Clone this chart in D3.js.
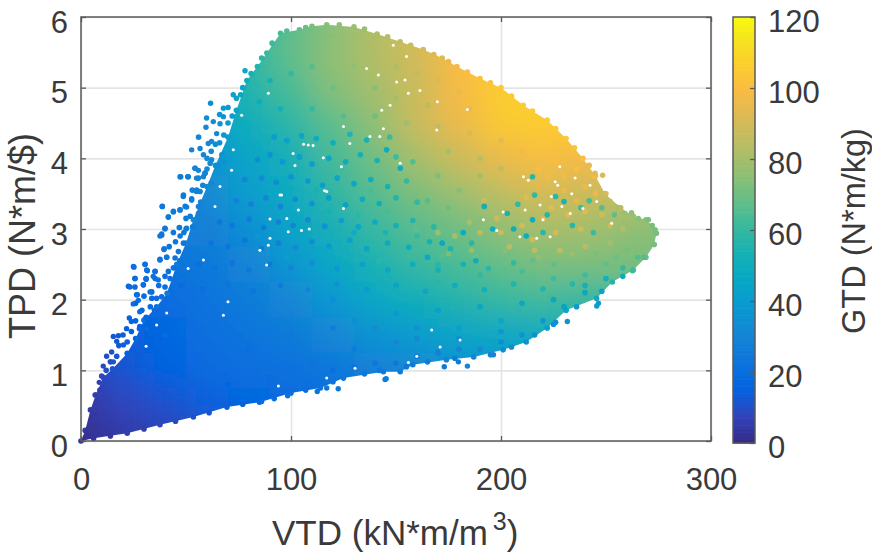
<!DOCTYPE html>
<html><head><meta charset="utf-8">
<script src="https://cdn.jsdelivr.net/npm/d3@7"></script>
<style>html,body{margin:0;background:#fff}svg{display:block}text{font-family:"Liberation Sans",Arial,sans-serif;fill:#3a3a3a}</style>
</head><body><div id="chart"></div>
<script>
// tick labels
const xTicks=[0,100,200,300], yTicks=[0,1,2,3,4,5,6], cTicks=[0,20,40,60,80,100,120];
// GTD (fieldVTD, fieldTPD)
const fieldVTD=[-20,0,20,40,60,80,100,120,140,160,180,200,220,240,260,280];
const fieldTPD=[6,5.5,5,4.5,4,3.5,3,2.5,2,1.5,1,0.5,0,-0.5];
const fieldGTD=[
[40,40,45,50,55,60,66,74,82,90,98,104,106,106,100,90],
[38,38,42,48,52,58,68,76,83,90,100,106,108,106,100,90],
[35,35,40,45,50,56,64,74,80,88,99,106,108,106,100,90],
[32,32,36,40,44,50,58,67,76,88,96,105,106,104,98,88],
[28,28,32,34,36,44,52,63,70,80,88,96,100,98,94,85],
[25,25,28,28,32,41,48,58,66,72,78,85,90,88,86,80],
[22,22,25,26,28,34,44,52,60,66,70,76,80,80,76,74],
[18,18,20,22,25,30,37,46,54,60,64,68,72,72,72,72],
[14,14,16,18,22,26,31,38,46,51,56,60,62,60,60,60],
[10,10,14,17,20,23,26,31,36,40,44,46,48,48,48,48],
[6,6,12,15,18,20,21,24,28,31,35,38,40,40,40,40],
[3,3,8,11,14,17,18,20,22,26,28,30,32,32,32,32],
[1,1,4,6,9,12,14,16,18,20,22,24,26,28,28,28],
[1,1,4,6,9,12,14,16,18,20,22,24,26,28,28,28]];
// outline of the dense cloud, with its colour
const edgeVTD=[0,2,4.5,7,10.6,15,22,26,30,36,41,45.6,50,53.5,60,64,70,74,79,84,88.5,95,104,110,117,130,141,152,163,172,179,190,200,210.6,222,231,239,245,249.5,257,263,269,272,274,273,269,263,253,245.5,231,222,212,201,187,174,158,152,144,125,114,100,85,69.5,53.5,37.6,22,6];
const edgeTPD=[0,0.15,0.44,0.65,0.9,1.02,1.24,1.45,1.71,1.9,2.09,2.5,2.8,3.13,3.6,3.9,4.3,4.68,5.1,5.3,5.49,5.77,5.82,5.87,5.89,5.86,5.76,5.65,5.54,5.42,5.3,5.13,5.0,4.75,4.54,4.28,4.0,3.75,3.5,3.3,3.18,3.13,3.05,2.94,2.78,2.6,2.42,2.25,2.02,1.85,1.6,1.4,1.29,1.19,1.15,1.08,0.98,0.98,0.89,0.75,0.68,0.55,0.48,0.34,0.23,0.11,0.04];
const edgeGTD=[2,3,5,7,9,12,15,17,20,23,25,27,29,31,34,37,40,44,50,56,60,64,68,72,75,78,82,86,90,94,98,102,105,106,106,104,100,96,90,84,78,74,72,72,71,68,62,56,48,44,40,36,33,30,28,26,26,25,24,22,20,17,14,11,8,6,3];
// stray dots outside the dense cloud
const strayVTD=[78.1,72.5,61.7,67.8,59.8,63,59.5,66.2,67.8,64.6,62.2,60.6,52.7,56.7,58.3,62.2,67,54.3,55.9,59,47.5,50.8,55,58.3,48.7,52.7,55,38.7,41.6,44,47.1,50.3,55.9,55.9,40,37.6,46.8,50,53.2,25.2,30.5,31.6,35.2,37.6,39.5,40.8,38.4,25.7,31,34.4,36.8,23.3,29.7,26.8,32.9,24.9,27.3,23,24,28,21.7,27.8,31.3,15.4,17.8,17,20.2,14.6,12.2,10.6,15.4,9.8,8.7,6.7,144.8,122.5,112.5,117,98.4,86,145.3,173,179.7,184,196.4,231.6,245.6,246.4,225,262.6,241.6,248.4,244.8,250,252,255.4,262.2,259,265.4,270.2,273.4];
const strayTPD=[5.24,4.9,4.78,4.71,4.57,4.52,4.44,4.49,4.59,4.35,4.24,4.21,4.12,4.14,4.05,3.98,4.05,3.86,3.83,3.79,3.74,3.74,3.72,3.74,3.46,3.43,3.53,3.32,3.17,3.24,3.27,3.31,3.32,3.22,3.0,2.9,3.02,3.0,3.03,2.46,2.5,2.41,2.4,2.56,2.71,2.6,2.93,2.3,2.3,2.33,2.28,2.18,2.21,2.07,2.11,1.94,1.99,1.74,1.69,1.83,1.59,1.59,1.59,1.48,1.49,1.41,1.36,1.26,1.2,1.06,1.12,0.92,0.83,0.65,0.87,0.74,0.7,0.75,0.64,0.56,0.88,1.05,1.12,1.06,1.22,1.69,1.91,1.95,1.65,2.41,3.9,3.76,3.79,3.5,3.39,3.31,3.23,3.22,3.15,3.13,2.99];
const strayGTD=[46,42,34,38,32,34,31,36,37,33,32,31,28,30,30,33,36,29,30,31,26,27,29,30,26,27,28,24,25,25,26,27,28,28,24,23,25,26,27,20,21,21,22,23,24,24,24,19,20,21,22,18,19,19,20,18,18,16,16,18,15,17,18,12,13,13,14,11,10,9,11,8,7,6,27,24,23,24,21,18,27,25,27,28,31,36,40,40,35,62,96,92,94,90,86,82,76,78,74,72,72];
// more single dots: VTD, TPD, GTD
const cloudDots=[
[38.7,3.32,25],[41.6,3.17,25],[44,3.25,26],[47.2,3.27,26],[49.6,3.32,27],[48.8,3.48,27],[52.7,3.41,28],[55.1,3.55,29],[56.7,3.53,29],[47.2,3.74,27],[51.1,3.74,28],[54.3,3.86,29],[55.9,3.72,29],[59.1,3.79,31],[61.5,3.93,33],
[40,3.01,23],[38.4,2.91,23],[46.9,3.02,25],[50.3,3.01,26],[53.2,3.03,26],[47.2,2.9,24],[48.8,2.8,24],[39.6,2.72,22],[46.4,2.68,23],[37.6,2.57,21],[40.8,2.6,22],[44.8,2.59,22],[30.5,2.5,20],[25,2.47,19],[31.3,2.42,20],[35.3,2.4,20],[25.7,2.3,18],[31,2.29,19],[35.3,2.3,20],[22.6,2.19,17],[25.7,2.18,18],[29.7,2.21,18],[41.6,2.4,21],[42.4,2.3,21],[26.5,2.07,17],[33.7,2.11,18],[40,2.18,20],[33.7,2.02,18],[38.4,2.04,19],
[18,1.35,13],[20,1.5,14],[22,1.4,14],[24,1.55,15],[26,1.7,16],[28,1.62,16],[26,1.95,17],[29,1.85,17],[31,1.75,17],[33,1.9,18],[35,1.85,18],[30,2.05,18],[36,2.02,19],[37,2.2,19],[40,2.33,20],[43,2.15,20],[44,2.45,21],[46,2.35,22],[47,2.55,22],[42,2.75,23],[45,2.82,24],[44,2.95,24],[49,2.95,25],[52,3.18,27],[50,3.15,26],[53,3.55,28],[57,3.38,29],[58,3.62,30],[60,3.85,32],[62,4.1,33],[64,4.2,34],[66,4.22,35],[68,4.33,37],[70,4.5,38],[66,4.62,37],[70,4.72,39],[72,4.6,40],[74,4.85,44],[77,5,46],[62,3.65,31],[65,3.9,34],[68,3.95,36],[56,4.3,31],[60,4,32],[12,1,10],[14,1.12,11],[17,1.2,12],[9,0.72,7],
[76,4.9,46],[81,5.2,54],[86,5.42,58],[91,5.63,62],[98,5.8,66],[107,5.85,70],[123,5.89,76],[135,5.83,78],[146,5.72,84],[157,5.6,88],[168,5.47,92],[175,5.37,96],[184,5.22,100],[195,5.07,103],[205,4.88,105],[215,4.67,106],[226,4.42,105],[235,4.15,103],[242,3.9,98],
[30,0.17,6],[45,0.28,9],[61,0.4,12],[77,0.52,15],[92,0.6,18],[107,0.72,20],[120,0.84,22],[135,0.95,24],[14,0.07,3],
[150,5.3,82],[160,5.2,86],[170,5.1,92],[180,4.95,95],[140,5,74],[150,4.85,80],[165,4.75,84],[185,4.7,95],[130,5.3,76],[120,5,70],[110,5.3,66],[100,5.2,60],[90,5.1,54],[85,4.8,50],[95,4.7,52],[110,4.7,60],[125,4.6,66],[140,4.6,70],[155,4.5,78],[170,4.45,85],[185,4.35,90],[200,4.25,95],[210,4.1,97],[175,4.1,80],[190,4,84],[200,3.85,86],[170,3.75,72],[180,3.55,74],[190,3.75,80],[165,3.4,66],[175,3.3,70],[190,3.15,74],
[92,4.3,40],[98,4.25,42],[105,4.32,44],[112,4.28,48],[120,4.22,50],[128,4.34,56],[136,4.26,54],[147,4.3,62],
[84,3.98,34],[90,4.05,36],[96,3.95,38],[104,4.02,42],[110,3.92,40],[118,4,46],[126,3.95,48],[133,4.05,52],[141,3.97,54],[150,4.02,62],[158,3.95,66],
[78,3.7,30],[86,3.72,32],[93,3.66,34],[100,3.74,36],[108,3.68,38],[115,3.62,40],[122,3.72,44],[130,3.64,46],[138,3.7,50],[146,3.6,54],[155,3.68,60],
[74,3.4,28],[81,3.35,28],[88,3.44,30],[95,3.32,30],[102,3.42,34],[110,3.36,36],[118,3.44,40],[126,3.34,42],[134,3.42,48],[142,3.36,50],[150,3.44,56],[160,3.38,60],
[66,3.1,24],[72,3.05,24],[80,3.14,26],[87,3.02,27],[94,3.1,28],[101,3.05,30],[108,3.13,32],[116,3.04,36],[124,3.12,40],[132,3.03,44],[140,3.1,48],[150,3.05,52],[158,3.12,56],[168,3.03,58],
[62,2.8,22],[70,2.75,23],[78,2.84,24],[86,2.72,26],[94,2.8,28],[102,2.74,32],[110,2.82,34],[118,2.76,38],[128,2.84,42],[136,2.72,44],[146,2.8,48],[156,2.74,50],[166,2.82,54],[176,2.72,56],[186,2.8,58],
[56,2.5,20],[64,2.45,22],[72,2.52,22],[80,2.42,24],[90,2.5,26],[100,2.45,30],[110,2.52,34],[122,2.44,38],[134,2.5,42],[146,2.42,46],[158,2.5,50],[170,2.42,52],[182,2.5,54],[194,2.44,58],[206,2.52,60],
[48,2.2,18],[58,2.15,20],[70,2.22,22],[82,2.12,23],[95,2.2,26],[108,2.14,30],[122,2.22,36],[136,2.14,40],[150,2.2,44],[164,2.12,46],[178,2.2,50],[192,2.14,52],[206,2.22,56],[220,2.15,56],[234,2.22,58],
[90,3.5,46],[100,3.85,54],[112,3.55,54],[124,3.85,62],[138,3.55,64],[152,3.8,74],[104,3,46],[118,3.25,54],[132,3.2,58],[146,3.25,64],[160,3,68],[84,2.9,38],[98,2.6,42],[112,2.65,46],[126,2.65,52],[142,2.55,58],[156,2.62,62],[172,2.62,66],[188,2.62,70],[202,2.7,74],[218,2.6,76],[234,2.65,78],[200,2.3,66],[215,2.35,68],[232,2.4,70],[170,2.25,58],[150,2.35,56],[130,2.05,44],[110,1.95,34],[90,1.85,28],
[160,2.9,60],[145,2.95,55],[130,2.95,48],[170,2.5,58],[190,2.35,60],[210,2.4,64],[225,2.3,62],[240,2.35,62],[250,2.5,68],[260,2.7,72],[265,2.85,74],[255,2.6,70],[245,2.65,72],[235,2.5,72],[225,2.5,68],[215,2.55,68],[130,1.7,34],[150,1.8,38],[170,1.85,42],[190,1.9,44],[210,1.95,46],[225,2,46],[240,2.2,52],[120,2,34],[100,1.8,28],[160,1.45,32],[180,1.45,34],[200,1.55,38],
[205,3.6,92],[212,3.45,94],[218,3.6,95],[224,3.3,94],[230,3.55,96],[236,3.4,95],[240,3.6,96],[245,3.5,96],[232,3.2,93],[220,3.15,92],[210,3.05,90],[200,2.95,88],[190,2.95,85],[215,2.85,90],[226,2.95,90],[238,3,90],[248,3.2,90],[252,3.05,88],[204,2.75,84],[216,2.7,86],[228,2.7,86],[240,2.75,84],[252,2.8,80],[192,3.4,88],[198,3.15,88],[185,3.1,82],[178,2.9,80],[170,2.95,78],[186,2.7,76],[175,2.65,72],[244,3.75,98],[236,3.85,100],[226,3.95,100],[218,3.85,100],[240,3.25,94],[258,3,84],[222,3.75,99],[230,3.75,98],
[192,3.32,52],[203,3.22,55],[215,3.13,50],[226,3.46,58],[230,3.39,55],[215,3.74,58],[216,3.48,60],[208,3.35,60],[222,3.2,58],[234,3.05,58],[244,2.95,62],[196,3,50],[182,2.95,48],[172,2.8,46],[188,2.55,50],[206,3,50],[220,2.95,58],[212,2.9,50],[248,3.3,66],[254,3.2,68],[238,3.3,62],[242,3.4,64],[165,2.6,46],[152,3.86,50],[145.5,4.12,50],
[120,1,20],[130,1.05,22],[140,1.1,24],[150,1.1,24],[160,1.2,26],[170,1.25,28],[180,1.3,30],[190,1.3,32],[200,1.4,34],[210,1.5,36],[220,1.7,38],[230,1.9,42],[240,2.1,46],[250,2.3,52],[258,2.45,60],[265,2.6,66],[142,1,24],[155,1.05,24],[165,1.12,26],[178,1.17,27],[195,1.22,30],[205,1.33,33],[216,1.5,34],[226,1.68,36],[236,1.9,38],[248,2.12,42],[258,2.33,50],[268,2.6,66],
[50,0.7,14],[70,0.8,16],[90,0.9,18],[110,1.1,22],[130,1.3,26],[60,1.2,20],[80,1.3,20],[100,1.5,24],[120,1.6,27],[140,1.6,32],[160,1.6,36],[180,1.6,42],[200,1.7,46],[40,1.5,18],[30,1,14],[60,1.7,22],[80,1.7,24],[150,1.4,30]];
// holes in the cloud where no dot falls
const gapVTD=[108.2,106,110.5,90,103.5,90,116,115.4,101,124,98,108.7,105,98.7,95.5,88.4,125,137.6,142.3,128,101.9,152,225.8,227,210.7,213,233.7,224,229,211.5,201,191.6,209,217,223.4,235.3,242.4,245.6,252.7,233,218.6,228,239,220,198,148.7,155,150.3,154.3,161.4,155.9,169.7,147.2,143.2,184,144,169.4,136,141.6,125,117,94.8,89.2,63.8,72.5,71.7,66.2,76.5,40.8,36,31,58.3,51,70,67.8,89.2,85.2,94,117,130.5,159.9,155.9,171,167,180.5];
const gapTPD=[4.19,4.2,4.18,3.14,3.27,2.87,3.54,4.01,4.07,3.88,3.15,3,2.98,2.96,3.48,2.49,3.29,4.31,4.31,4.21,3.9,3.93,3.67,3.62,3.74,3.69,3.5,3.46,3.32,3.27,3.24,3.13,2.89,2.87,2.89,3.72,3.62,3.39,3.08,3.22,3.34,3.88,3.29,3.13,2.98,5.6,5.44,5.08,5.11,4.96,4.92,4.8,4.75,4.68,4.69,4.42,4.4,5.27,5.18,4.45,3.53,3.48,4.92,3.32,4.12,3.83,3.6,4.61,1.81,1.64,1.34,2.56,2.44,1.97,1.78,2.77,2.7,0.78,0.89,1.03,1.2,1.11,1.33,1.57,1.43];
// colormap of the colour bar (parula)
const cmapPos=[0,0.0635,0.127,0.1905,0.254,0.3175,0.381,0.444,0.508,0.571,0.635,0.698,0.762,0.825,0.889,0.952,1];
const cmapAll=["#352a87","#3243ba","#0363e1","#0d75dc","#1485d4","#0998d1","#06a7c6","#15b1b4","#38b99e","#65be86","#92bf73","#b7bd64","#d9ba56","#f8ba44","#fcce2e","#f5e41d","#f9fb0e"];

const W=872,H=553,L=81,R=711,T=17,B=441;
const x=d3.scaleLinear().domain([0,300]).range([L,R]);
const y=d3.scaleLinear().domain([0,6]).range([B,T]);
const c=d3.scaleLinear().domain(cmapPos.map(p=>p*120)).range(cmapAll).clamp(true);
const cy=d3.scaleLinear().domain([0,120]).range([443,17]);
const svg=d3.select("#chart").append("svg").attr("width",W).attr("height",H);
const defs=svg.append("defs");
defs.append("filter").attr("id","soft").attr("x","-20%").attr("y","-20%").attr("width","140%").attr("height","140%")
  .append("feGaussianBlur").attr("stdDeviation",15);
defs.append("filter").attr("id","fine").attr("x","-5%").attr("y","-5%").attr("width","110%").attr("height","110%")
  .append("feGaussianBlur").attr("stdDeviation",0.55);
const outline=d3.line().x(d=>x(d)).y((d,i)=>y(edgeTPD[i]));
defs.append("clipPath").attr("id","cloud").append("path").attr("d",outline(edgeVTD)+"Z");

const grid="#e4e4e4";
svg.append("g").attr("transform",`translate(0,${B})`)
  .call(d3.axisBottom(x).tickValues(xTicks).tickSize(-(B-T)).tickFormat(""))
  .call(g=>{g.select(".domain").remove();g.selectAll("line").attr("stroke",grid).attr("stroke-width",1.6)});
svg.append("g").attr("transform",`translate(${L},0)`)
  .call(d3.axisLeft(y).tickValues(yTicks).tickSize(-(R-L)).tickFormat(""))
  .call(g=>{g.select(".domain").remove();g.selectAll("line").attr("stroke",grid).attr("stroke-width",1.6)});

const cells=[];
fieldTPD.forEach((t,r)=>fieldVTD.forEach((v,k)=>cells.push({v,t,g:fieldGTD[r][k]})));
const cw=x(20)-x(0), ch=y(0)-y(0.5);
svg.append("g").attr("clip-path","url(#cloud)").append("g").attr("filter","url(#soft)")
  .selectAll("rect").data(cells).join("rect")
  .attr("x",d=>x(d.v)-cw/2).attr("y",d=>y(d.t)-ch/2).attr("width",cw+.5).attr("height",ch+.5)
  .attr("fill",d=>c(d.g));

const dots=svg.append("g").attr("filter","url(#fine)");
dots.append("g").selectAll("circle").data(edgeVTD.map((v,i)=>({v,t:edgeTPD[i],g:edgeGTD[i]}))).join("circle")
  .attr("cx",d=>x(d.v)).attr("cy",d=>y(d.t)).attr("r",2.8).attr("fill",d=>c(d.g));
dots.append("g").selectAll("circle").data(cloudDots).join("circle")
  .attr("cx",d=>x(d[0])).attr("cy",d=>y(d[1])).attr("r",2.8).attr("fill",d=>c(d[2]));
dots.append("g").selectAll("circle").data(gapVTD.map((v,i)=>({v,t:gapTPD[i]}))).join("circle")
  .attr("cx",d=>x(d.v)).attr("cy",d=>y(d.t)).attr("r",1.5).attr("fill","#fff");
dots.append("g").selectAll("circle").data(strayVTD.map((v,i)=>({v,t:strayTPD[i],g:strayGTD[i]}))).join("circle")
  .attr("cx",d=>x(d.v)).attr("cy",d=>y(d.t)).attr("r",2.7).attr("fill",d=>c(d.g));

// axes box
const frame="#5a5a5a";
svg.append("rect").attr("x",L).attr("y",T).attr("width",R-L).attr("height",B-T).attr("fill","none").attr("stroke",frame).attr("stroke-width",1.5);
const fs=31;
function style(g){g.select(".domain").remove();g.selectAll("line").attr("stroke",frame).attr("stroke-width",1.3);g.selectAll("text").attr("font-size",fs).attr("fill","#3a3a3a")}
const fmt=d3.format("d");
svg.append("g").attr("transform",`translate(0,${B})`).call(d3.axisBottom(x).tickValues(xTicks).tickFormat(fmt).tickSizeInner(-5)).call(style).call(g=>g.selectAll("text").attr("dy",0).attr("y",49));
svg.append("g").attr("transform",`translate(0,${T})`).call(d3.axisTop(x).tickValues(xTicks).tickSizeInner(-5).tickFormat("")).call(style);
svg.append("g").attr("transform",`translate(${L},0)`).call(d3.axisLeft(y).tickValues(yTicks).tickFormat(fmt).tickSizeInner(-5).tickPadding(13)).call(style).call(g=>g.selectAll("text").attr("dy",".36em").attr("y",4));
svg.append("g").attr("transform",`translate(${R},0)`).call(d3.axisRight(y).tickValues(yTicks).tickSizeInner(-5).tickFormat("")).call(style);

// colour bar
const CL=733,CR=755;
const steps=d3.range(0,120,1);
svg.append("g").selectAll("rect").data(steps).join("rect")
  .attr("x",CL).attr("width",CR-CL).attr("y",d=>cy(d+1)).attr("height",d=>cy(d)-cy(d+1)+.6).attr("fill",d=>c(d+.5));
svg.append("rect").attr("x",CL).attr("y",17).attr("width",CR-CL).attr("height",426).attr("fill","none").attr("stroke",frame).attr("stroke-width",1.5);
svg.append("g").attr("transform",`translate(${CR},0)`).call(d3.axisRight(cy).tickValues(cTicks).tickFormat(fmt).tickSizeInner(-5).tickPadding(13)).call(style).call(g=>g.selectAll("text").attr("dy",".36em").attr("y",3));

// labels
const xl=svg.append("text").attr("x",272).attr("y",545).attr("font-size",35);
xl.append("tspan").text("VTD (kN*m/m");
xl.append("tspan").attr("dx",5).attr("dy",-15).attr("font-size",25).text("3");
xl.append("tspan").attr("dy",15).text(")");
svg.append("text").attr("transform","translate(35,236) rotate(-90)").attr("text-anchor","middle").attr("font-size",36).text("TPD (N*m/$)");
svg.append("text").attr("transform","translate(865,231) rotate(-90)").attr("text-anchor","middle").attr("font-size",32.5).text("GTD (N*m/kg)");
</script></body></html>
